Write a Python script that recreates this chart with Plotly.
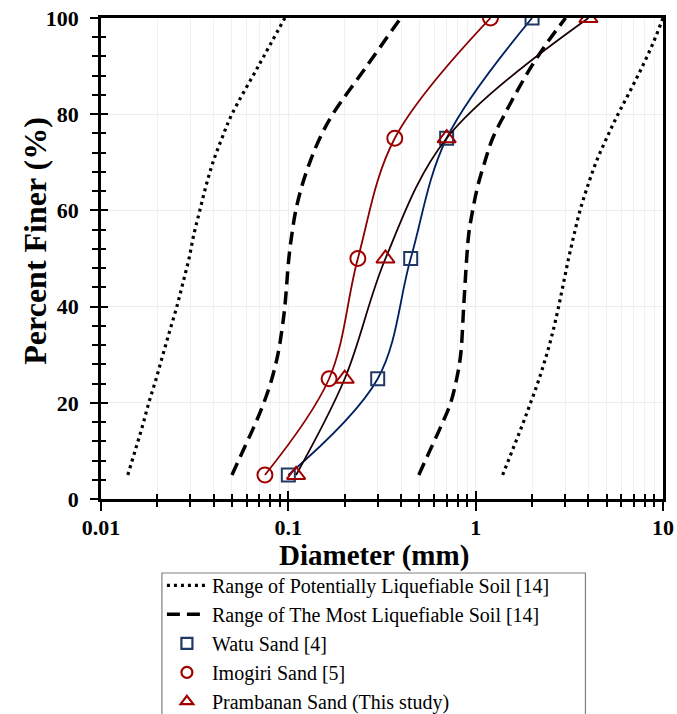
import plotly.graph_objects as go

# ---------------- data ----------------
pct = [5, 25, 50, 75, 100]
watu_d = [0.1, 0.3, 0.45, 0.7, 2.0]
imogiri_d = [0.075, 0.165, 0.235, 0.37, 1.2]
prambanan_d = [0.11, 0.2, 0.33, 0.7, 4.0]

pot_left_p = [5, 10, 15, 20, 25, 30, 35, 40, 45, 50, 55, 60, 65, 70, 75, 80, 90, 100]
pot_left_d = [0.0139, 0.0152, 0.0166, 0.0180, 0.0197, 0.0214, 0.0233, 0.0254, 0.0274, 0.0295,
              0.0313, 0.0337, 0.0363, 0.0396, 0.0442, 0.0500, 0.0692, 0.0958]
pot_right_p = [5, 10, 15, 20, 25, 30, 35, 40, 45, 50, 55, 60, 65, 70, 75, 80, 85, 90, 95, 100]
pot_right_d = [1.393, 1.566, 1.759, 1.965, 2.182, 2.392, 2.591, 2.772, 2.947, 3.133,
               3.353, 3.608, 3.956, 4.392, 4.997, 5.754, 6.709, 7.776, 8.899, 10.0]

most_left_p = [5, 10, 15, 20, 25, 30, 35, 40, 50, 55, 60, 65, 70, 75, 80, 90, 100]
most_left_d = [0.050, 0.0572, 0.0655, 0.0740, 0.0817, 0.0879, 0.0923, 0.0958, 0.1006, 0.1044,
               0.1096, 0.118, 0.1302, 0.1472, 0.1727, 0.2622, 0.398]
most_right_p = [5, 10, 15, 20, 25, 30, 40, 50, 55, 60, 65, 70, 75, 80, 85, 90, 95, 100]
most_right_d = [0.497, 0.5685, 0.6507, 0.7356, 0.7918, 0.8318, 0.863, 0.8954, 0.9178, 0.9638,
                1.025, 1.117, 1.232, 1.428, 1.675, 1.989, 2.421, 3.02]

names = ["Range of Potentially Liquefiable Soil [14]",
         "Range of The Most Liquefiable Soil [14]",
         "Watu Sand [4]", "Imogiri Sand [5]", "Prambanan Sand (This study)"]

SERIF = "Liberation Serif, Times New Roman, serif"

fig = go.Figure()

dot_style = dict(color="black", width=3.2, dash="3px,4px")
dash_style = dict(color="black", width=3.5, dash="13px,7px")

fig.add_trace(go.Scatter(x=pot_left_d, y=pot_left_p, mode="lines", line_shape="spline",
                         line=dot_style, name=names[0], legendgroup="pot"))
fig.add_trace(go.Scatter(x=pot_right_d, y=pot_right_p, mode="lines", line_shape="spline",
                         line=dot_style, name=names[0], legendgroup="pot", showlegend=False))
fig.add_trace(go.Scatter(x=most_left_d, y=most_left_p, mode="lines", line_shape="spline",
                         line=dash_style, name=names[1], legendgroup="most"))
fig.add_trace(go.Scatter(x=most_right_d, y=most_right_p, mode="lines", line_shape="spline",
                         line=dash_style, name=names[1], legendgroup="most", showlegend=False))

series = [
    (watu_d, names[2], "#002060", "square-open", "#1F3864", 13),
    (imogiri_d, names[3], "#8B0000", "circle-open", "#A00000", 15),
    (prambanan_d, names[4], "#1a0000", "triangle-up-open", "#A00000", 16),
]
for d, nm, lc, sym, mc, ms in series:
    fig.add_trace(go.Scatter(x=d, y=pct, mode="lines+markers", line_shape="spline",
                             line=dict(color=lc, width=1.8),
                             marker=dict(symbol=sym, size=ms, color=mc, line=dict(width=2, color=mc)),
                             name=nm, showlegend=False))
    fig.add_trace(go.Scatter(x=[None], y=[None], mode="markers",
                             marker=dict(symbol=sym, size=11, color=mc, line=dict(width=2.2, color=mc)),
                             name=nm))

# helper trace for overlay axes (inside ticks)
fig.add_trace(go.Scatter(x=[None], y=[None], xaxis="x2", yaxis="y2", showlegend=False,
                         hoverinfo="skip"))

tickfont = dict(family=SERIF, size=22, color="black", weight="bold")

fig.update_layout(
    width=677, height=714,
    margin=dict(l=101, r=14, t=18, b=215, autoexpand=False),
    paper_bgcolor="white", plot_bgcolor="white",
    showlegend=True,
    xaxis=dict(type="log", range=[-2, 1], dtick=1, showline=True, linecolor="black", linewidth=2.5,
               mirror=True, ticks="outside", ticklen=9, tickwidth=2.2, tickcolor="black",
               tickfont=tickfont, showgrid=True, gridcolor="#efefef", gridwidth=1, zeroline=False,
               automargin=False,
               minor=dict(dtick="D1", ticks="outside", ticklen=5, tickwidth=2, tickcolor="black",
                          showgrid=True, gridcolor="#f1f1f1", gridwidth=1),
               ticklabelstandoff=-2),
    yaxis=dict(range=[0, 100], dtick=20, showline=True, linecolor="black", linewidth=2.5,
               mirror=True, ticks="outside", ticklen=8, tickwidth=2.2, tickcolor="black",
               tickfont=tickfont, showgrid=True, gridcolor="#ececec", gridwidth=1, zeroline=False,
               automargin=False,
               minor=dict(dtick=4, ticks="outside", ticklen=6, tickwidth=2, tickcolor="black",
                          showgrid=False),
               ticklabelstandoff=7),
    xaxis2=dict(type="log", range=[-2, 1], dtick=1, overlaying="x", anchor="y2", side="bottom",
                showline=False, ticks="inside", ticklen=8, tickwidth=2.2, tickcolor="black",
                showticklabels=False, showgrid=False, zeroline=False, automargin=False,
                minor=dict(dtick="D1", ticks="inside", ticklen=5, tickwidth=2, tickcolor="black",
                           showgrid=False)),
    yaxis2=dict(range=[0, 100], dtick=20, overlaying="y", anchor="x2", side="left",
                showline=False, ticks="inside", ticklen=7, tickwidth=2.2, tickcolor="black",
                showticklabels=False, showgrid=False, zeroline=False, automargin=False,
                minor=dict(dtick=4, ticks="inside", ticklen=5, tickwidth=2, tickcolor="black",
                           showgrid=False)),
    legend=dict(x=0.1084, y=-0.139, xanchor="left", yanchor="top",
                bgcolor="rgba(0,0,0,0)", borderwidth=0, itemwidth=40, tracegroupgap=0,
                font=dict(family=SERIF, size=20, color="black")),
    annotations=[
        dict(text="Diameter (mm)", xref="paper", yref="paper", x=0.485, y=-0.118,
             xanchor="center", yanchor="middle", showarrow=False,
             font=dict(family=SERIF, size=29, color="black", weight="bold")),
        dict(text="Percent Finer (%)", xref="paper", yref="paper", x=0, xshift=-66, y=0.537,
             xanchor="center", yanchor="middle", showarrow=False, textangle=-90,
             font=dict(family=SERIF, size=32, color="black", weight="bold")),
    ],
    shapes=[dict(type="rect", xref="paper", yref="paper", x0=0.1084, x1=0.862,
                 y0=-0.6, y1=-0.1538, line=dict(color="#808080", width=1.2))],
)

fig.write_html("out.html")
